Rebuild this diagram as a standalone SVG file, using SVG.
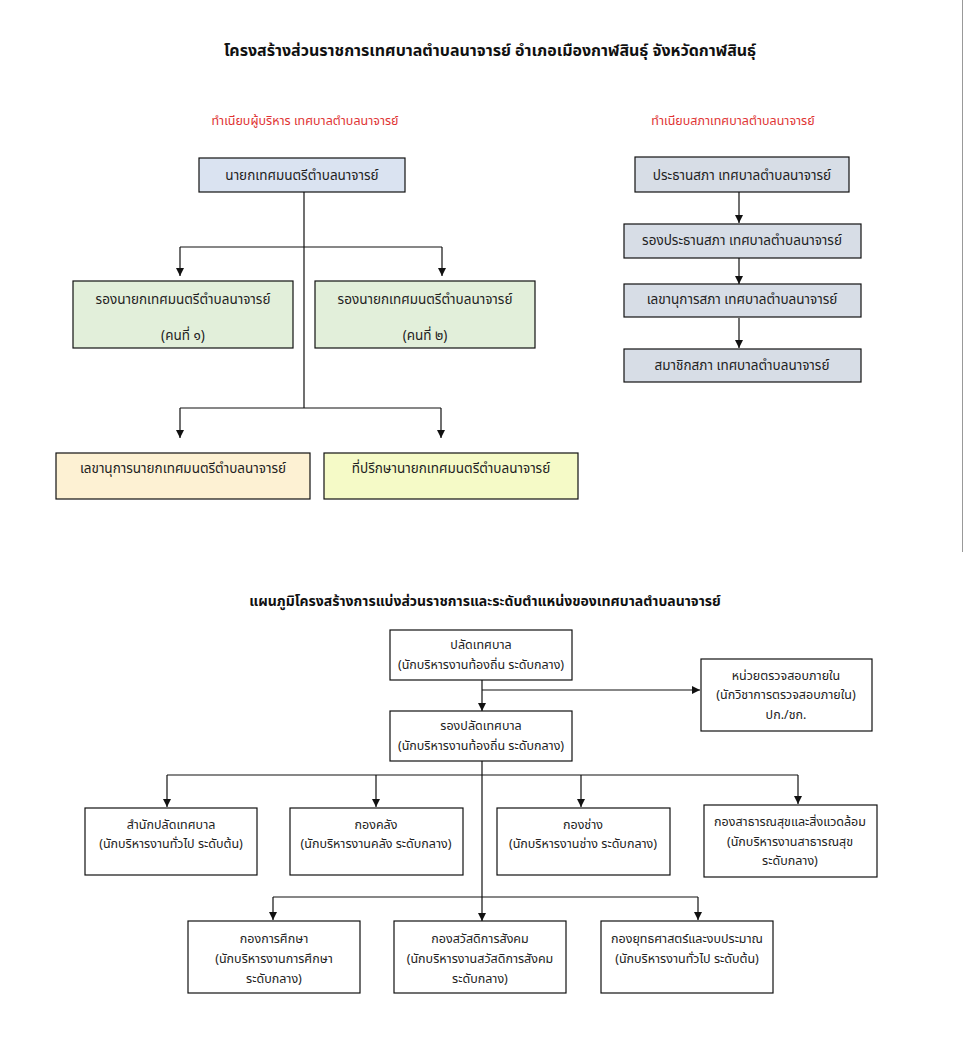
<svg xmlns="http://www.w3.org/2000/svg" width="964" height="1045" viewBox="0 0 964 1045">
<defs>
<style>
text{font-family:"Noto Sans Thai","Noto Sans","DejaVu Sans",sans-serif;fill:#222;text-anchor:middle;dominant-baseline:middle}
.t{font-size:16px;font-weight:bold;fill:#111}
.t2{font-size:14px;font-weight:bold;fill:#111}
.red{font-size:12.5px;fill:#e03434}
.n{font-size:13.5px}
.s{font-size:12.5px}
.box{stroke:#111;stroke-width:1.2}
.ln{fill:none;stroke:#111;stroke-width:1.2}
</style>
<marker id="ah" markerWidth="8" markerHeight="8" refX="8" refY="4" orient="auto" markerUnits="userSpaceOnUse">
<path d="M0,0 L8,4 L0,8 z" fill="#111"/>
</marker>
</defs>
<rect width="964" height="1045" fill="#fff"/>
<line x1="962.5" y1="0" x2="962.5" y2="552" stroke="#999" stroke-width="1"/>

<text class="t" x="490" y="52">โครงสร้างส่วนราชการเทศบาลตำบลนาจารย์ อำเภอเมืองกาฬสินธุ์ จังหวัดกาฬสินธุ์</text>
<text class="red" x="305" y="122">ทำเนียบผู้บริหาร เทศบาลตำบลนาจารย์</text>
<text class="red" x="733" y="122">ทำเนียบสภาเทศบาลตำบลนาจารย์</text>
<text class="t2" x="485" y="602">แผนภูมิโครงสร้างการแบ่งส่วนราชการและระดับตำแหน่งของเทศบาลตำบลนาจารย์</text>

<g id="connectors">
<line class="ln" x1="304" y1="192" x2="304" y2="408"/>
<line class="ln" x1="180" y1="247" x2="442" y2="247"/>
<line class="ln" x1="180" y1="247" x2="180" y2="276" marker-end="url(#ah)"/>
<line class="ln" x1="442" y1="247" x2="442" y2="276" marker-end="url(#ah)"/>
<line class="ln" x1="180" y1="408" x2="441" y2="408"/>
<line class="ln" x1="180" y1="408" x2="180" y2="438" marker-end="url(#ah)"/>
<line class="ln" x1="441" y1="408" x2="441" y2="438" marker-end="url(#ah)"/>

<line class="ln" x1="739" y1="192" x2="739" y2="223" marker-end="url(#ah)"/>
<line class="ln" x1="739" y1="258" x2="739" y2="284" marker-end="url(#ah)"/>
<line class="ln" x1="739" y1="318" x2="739" y2="348" marker-end="url(#ah)"/>

<line class="ln" x1="482" y1="680" x2="482" y2="711" marker-end="url(#ah)"/>
<line class="ln" x1="482" y1="690" x2="700" y2="690" marker-end="url(#ah)"/>
<line class="ln" x1="482" y1="761" x2="482" y2="921" marker-end="url(#ah)"/>
<line class="ln" x1="167" y1="775" x2="798" y2="775"/>
<line class="ln" x1="167" y1="775" x2="167" y2="807" marker-end="url(#ah)"/>
<line class="ln" x1="376" y1="775" x2="376" y2="807" marker-end="url(#ah)"/>
<line class="ln" x1="581" y1="775" x2="581" y2="807" marker-end="url(#ah)"/>
<line class="ln" x1="798" y1="775" x2="798" y2="804" marker-end="url(#ah)"/>
<line class="ln" x1="273" y1="897" x2="698" y2="897"/>
<line class="ln" x1="273" y1="897" x2="273" y2="920" marker-end="url(#ah)"/>
<line class="ln" x1="698" y1="897" x2="698" y2="920" marker-end="url(#ah)"/>
</g>

<g id="mayor"><rect class="box" x="199" y="158" width="206" height="34" fill="#dae3f1"/><text class="n" x="302" y="176">นายกเทศมนตรีตำบลนาจารย์</text></g>
<g id="deputy1"><rect class="box" x="73" y="281" width="220" height="67" fill="#e2efda"/><text class="n" x="183" y="300">รองนายกเทศมนตรีตำบลนาจารย์</text><text class="n" x="183" y="336">(คนที่ ๑)</text></g>
<g id="deputy2"><rect class="box" x="315" y="281" width="220" height="67" fill="#e2efda"/><text class="n" x="425" y="300">รองนายกเทศมนตรีตำบลนาจารย์</text><text class="n" x="425" y="336">(คนที่ ๒)</text></g>
<g id="secretary"><rect class="box" x="56" y="453" width="254" height="46" fill="#fdf1d3"/><text class="n" x="183" y="469">เลขานุการนายกเทศมนตรีตำบลนาจารย์</text></g>
<g id="advisor"><rect class="box" x="324" y="453" width="254" height="46" fill="#f5fac7"/><text class="n" x="451" y="469">ที่ปรึกษานายกเทศมนตรีตำบลนาจารย์</text></g>

<g id="council-chair"><rect class="box" x="635" y="157" width="214" height="35" fill="#d7dde6"/><text class="n" x="742" y="176">ประธานสภา เทศบาลตำบลนาจารย์</text></g>
<g id="council-vice"><rect class="box" x="624" y="224" width="237" height="34" fill="#d7dde6"/><text class="n" x="742" y="241">รองประธานสภา เทศบาลตำบลนาจารย์</text></g>
<g id="council-sec"><rect class="box" x="624" y="284" width="237" height="33" fill="#d7dde6"/><text class="n" x="742" y="300">เลขานุการสภา เทศบาลตำบลนาจารย์</text></g>
<g id="council-member"><rect class="box" x="624" y="349" width="237" height="33" fill="#d7dde6"/><text class="n" x="742" y="366">สมาชิกสภา เทศบาลตำบลนาจารย์</text></g>

<g id="palad"><rect class="box" x="390" y="630" width="182" height="50" fill="#fff"/><text class="s" x="481" y="646">ปลัดเทศบาล</text><text class="s" x="481" y="666">(นักบริหารงานท้องถิ่น ระดับกลาง)</text></g>
<g id="audit"><rect class="box" x="701" y="659" width="171" height="72" fill="#fff"/><text class="s" x="786" y="677">หน่วยตรวจสอบภายใน</text><text class="s" x="786" y="696">(นักวิชาการตรวจสอบภายใน)</text><text class="s" x="786" y="716">ปก./ชก.</text></g>
<g id="rong-palad"><rect class="box" x="390" y="711" width="182" height="50" fill="#fff"/><text class="s" x="481" y="727">รองปลัดเทศบาล</text><text class="s" x="481" y="747">(นักบริหารงานท้องถิ่น ระดับกลาง)</text></g>

<g id="office"><rect class="box" x="85" y="808" width="172" height="67" fill="#fff"/><text class="s" x="171" y="826">สำนักปลัดเทศบาล</text><text class="s" x="171" y="845">(นักบริหารงานทั่วไป ระดับต้น)</text></g>
<g id="finance"><rect class="box" x="290" y="808" width="173" height="67" fill="#fff"/><text class="s" x="376" y="826">กองคลัง</text><text class="s" x="376" y="845">(นักบริหารงานคลัง ระดับกลาง)</text></g>
<g id="engineering"><rect class="box" x="497" y="808" width="173" height="67" fill="#fff"/><text class="s" x="583" y="826">กองช่าง</text><text class="s" x="583" y="845">(นักบริหารงานช่าง ระดับกลาง)</text></g>
<g id="health"><rect class="box" x="704" y="805" width="173" height="72" fill="#fff"/><text class="s" x="790" y="823">กองสาธารณสุขและสิ่งแวดล้อม</text><text class="s" x="790" y="843">(นักบริหารงานสาธารณสุข</text><text class="s" x="790" y="862">ระดับกลาง)</text></g>

<g id="education"><rect class="box" x="188" y="921" width="172" height="72" fill="#fff"/><text class="s" x="274" y="940">กองการศึกษา</text><text class="s" x="274" y="960">(นักบริหารงานการศึกษา</text><text class="s" x="274" y="980">ระดับกลาง)</text></g>
<g id="welfare"><rect class="box" x="394" y="921" width="172" height="72" fill="#fff"/><text class="s" x="480" y="940">กองสวัสดิการสังคม</text><text class="s" x="480" y="960">(นักบริหารงานสวัสดิการสังคม</text><text class="s" x="480" y="980">ระดับกลาง)</text></g>
<g id="strategy"><rect class="box" x="601" y="921" width="172" height="72" fill="#fff"/><text class="s" x="687" y="940">กองยุทธศาสตร์และงบประมาณ</text><text class="s" x="687" y="960">(นักบริหารงานทั่วไป ระดับต้น)</text></g>
</svg>
